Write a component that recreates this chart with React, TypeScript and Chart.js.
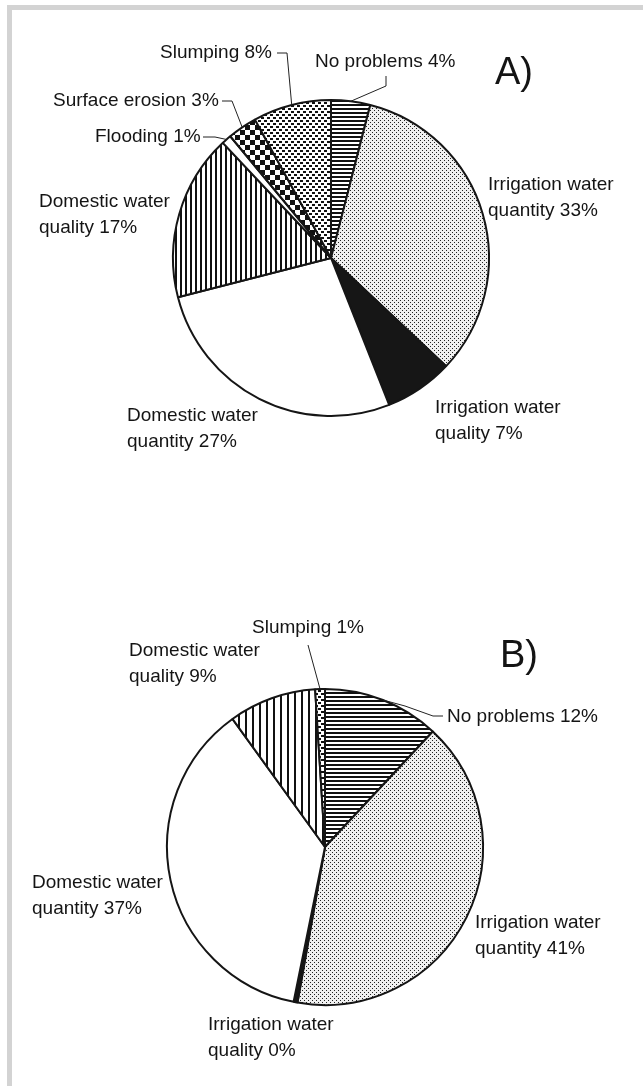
import React, { useEffect, useRef } from "react";
import { Chart, registerables } from "chart.js";

Chart.register(...registerables);

// ---------- DATA ----------
const categoriesA = [
  "No problems",
  "Irrigation water quantity",
  "Irrigation water quality",
  "Domestic water quantity",
  "Domestic water quality",
  "Flooding",
  "Surface erosion",
  "Slumping",
];
const valuesA = [4, 33, 7, 27, 17, 1, 3, 8];

const categoriesB = [
  "No problems",
  "Irrigation water quantity",
  "Irrigation water quality",
  "Domestic water quantity",
  "Domestic water quality",
  "Slumping",
];
// "Irrigation water quality" is labelled 0% but drawn as a hairline wedge
const valuesB = [12, 41, 0.4, 37, 9, 1];

const panelTitles = ["A)", "B)"];

// ---------- LAYOUT / STYLE ----------
const W = 643;
const H = 1086;
const FONT = "'Liberation Sans', Arial, Helvetica, sans-serif";
const TEXT_SIZE = 19;
const LINE_GAP = 25.5;
const TITLE_SIZE = 38;

type LabelLayout = {
  x: number;
  y: number;
  wrap: boolean;
  leader?: number[][]; // polyline from near the text towards the slice (arc point appended)
};

const layoutA = {
  cx: 331,
  cy: 258,
  radius: 158,
  title: { x: 495, y: 84 },
  labels: [
    { x: 315, y: 67, wrap: false, leader: [[386, 76], [386, 86]] },
    { x: 488, y: 190, wrap: true },
    { x: 435, y: 413, wrap: true },
    { x: 127, y: 421, wrap: true },
    { x: 39, y: 207, wrap: true },
    { x: 95, y: 142, wrap: false, leader: [[203, 137], [215, 137]] },
    { x: 53, y: 106, wrap: false, leader: [[222, 101], [232, 101]] },
    { x: 160, y: 58, wrap: false, leader: [[277, 53], [287, 53]] },
  ] as LabelLayout[],
};

const layoutB = {
  cx: 325,
  cy: 847,
  radius: 158,
  title: { x: 500, y: 667 },
  labels: [
    { x: 447, y: 722, wrap: false, leader: [[443, 716], [433, 716], [405, 706]] },
    { x: 475, y: 928, wrap: true },
    { x: 208, y: 1030, wrap: true },
    { x: 32, y: 888, wrap: true },
    { x: 129, y: 656, wrap: true },
    { x: 252, y: 633, wrap: false, leader: [[308, 645]] },
  ] as LabelLayout[],
};

// ---------- PATTERNS ----------
function tile(w: number, h: number, draw: (c: CanvasRenderingContext2D) => void): CanvasPattern | string {
  const cv = document.createElement("canvas");
  cv.width = w;
  cv.height = h;
  const c = cv.getContext("2d");
  if (!c) return "#888";
  draw(c);
  const p = c.createPattern(cv, "repeat");
  return p || "#888";
}

function patternFor(category: string, panel: number): CanvasPattern | string {
  switch (category) {
    case "No problems":
      return tile(4, 4, (c) => {
        c.fillStyle = "#fff";
        c.fillRect(0, 0, 4, 4);
        c.fillStyle = "#111";
        c.fillRect(0, 0, 4, 2);
      });
    case "Irrigation water quantity":
      return tile(4, 4, (c) => {
        c.fillStyle = "#f0f0f0";
        c.fillRect(0, 0, 4, 4);
        c.fillStyle = "#222";
        c.fillRect(0, 0, 1, 1);
        c.fillRect(2, 2, 1, 1);
      });
    case "Irrigation water quality":
      return "#161616";
    case "Domestic water quantity":
      return "#ffffff";
    case "Domestic water quality": {
      const p = panel === 0 ? 5 : 7;
      return tile(p, 4, (c) => {
        c.fillStyle = "#fff";
        c.fillRect(0, 0, p, 4);
        c.fillStyle = "#111";
        c.fillRect(0, 0, 2, 4);
      });
    }
    case "Flooding":
      return "#ffffff";
    case "Surface erosion":
      return tile(10, 10, (c) => {
        c.fillStyle = "#fff";
        c.fillRect(0, 0, 10, 10);
        c.fillStyle = "#111";
        c.fillRect(0, 0, 5, 5);
        c.fillRect(5, 5, 5, 5);
      });
    case "Slumping":
      return tile(6, 6, (c) => {
        c.fillStyle = "#fff";
        c.fillRect(0, 0, 6, 6);
        c.fillStyle = "#111";
        c.fillRect(0, 0, 3, 2);
        c.fillRect(3, 3, 3, 2);
      });
    default:
      return "#ccc";
  }
}

function labelLines(category: string, value: number, wrap: boolean): string[] {
  const pct = `${Math.round(value)}%`;
  if (!wrap) return [`${category} ${pct}`];
  const words = category.split(" ");
  return [words.slice(0, 2).join(" "), `${words.slice(2).join(" ")} ${pct}`];
}

function makeLabelPlugin(
  categories: string[],
  values: number[],
  layout: { labels: LabelLayout[]; title: { x: number; y: number } },
  title: string
) {
  return {
    id: "leaderLabels",
    afterDraw(chart: any) {
      const ctx: CanvasRenderingContext2D = chart.ctx;
      const meta = chart.getDatasetMeta(0);
      ctx.save();
      // leader lines, ending on the arc at the middle of each slice
      ctx.strokeStyle = "#222";
      ctx.lineWidth = 1;
      layout.labels.forEach((lab, i) => {
        if (!lab.leader) return;
        const arc = meta.data[i];
        const p = arc.getProps(["x", "y", "startAngle", "endAngle", "outerRadius"], true);
        const a = (p.startAngle + p.endAngle) / 2;
        const ax = p.x + Math.cos(a) * p.outerRadius;
        const ay = p.y + Math.sin(a) * p.outerRadius;
        ctx.beginPath();
        ctx.moveTo(lab.leader[0][0], lab.leader[0][1]);
        for (let k = 1; k < lab.leader.length; k++) ctx.lineTo(lab.leader[k][0], lab.leader[k][1]);
        ctx.lineTo(ax, ay);
        ctx.stroke();
      });
      // label texts
      ctx.fillStyle = "#141414";
      ctx.textBaseline = "alphabetic";
      ctx.textAlign = "left";
      ctx.font = `${TEXT_SIZE}px ${FONT}`;
      layout.labels.forEach((lab, i) => {
        const lines = labelLines(categories[i], values[i], lab.wrap);
        lines.forEach((ln, k) => {
          ctx.fillText(ln, lab.x, lab.y + k * LINE_GAP);
        });
      });
      // panel title
      ctx.font = `${TITLE_SIZE}px ${FONT}`;
      ctx.fillText(title, layout.title.x, layout.title.y);
      ctx.restore();
    },
  };
}

function buildChart(
  canvas: HTMLCanvasElement,
  categories: string[],
  values: number[],
  layout: typeof layoutA,
  panel: number
) {
  const padLeft = Math.max(0, 2 * layout.cx - W);
  const padRight = Math.max(0, W - 2 * layout.cx);
  const padTop = Math.max(0, 2 * layout.cy - H);
  const padBottom = Math.max(0, H - 2 * layout.cy);
  return new Chart(canvas, {
    type: "pie",
    data: {
      labels: categories,
      datasets: [
        {
          data: values,
          backgroundColor: categories.map((c) => patternFor(c, panel)) as any,
          borderColor: "#151515",
          borderWidth: 2,
          radius: layout.radius,
        } as any,
      ],
    },
    options: {
      responsive: false,
      animation: false,
      events: [],
      layout: { padding: { left: padLeft, right: padRight, top: padTop, bottom: padBottom } },
      plugins: {
        legend: { display: false },
        tooltip: { enabled: false },
      },
    },
    plugins: [makeLabelPlugin(categories, values, layout, panelTitles[panel])],
  });
}

export default function App() {
  const refA = useRef<HTMLCanvasElement>(null);
  const refB = useRef<HTMLCanvasElement>(null);

  useEffect(() => {
    if (!refA.current || !refB.current) return;
    const a = buildChart(refA.current, categoriesA, valuesA, layoutA, 0);
    const b = buildChart(refB.current, categoriesB, valuesB, layoutB, 1);
    return () => {
      a.destroy();
      b.destroy();
    };
  }, []);

  const canvasStyle: React.CSSProperties = {
    position: "absolute",
    left: 0,
    top: 0,
    width: W,
    height: H,
  };

  return (
    <div
      style={{
        position: "absolute",
        left: 0,
        top: 0,
        width: W,
        height: H,
        overflow: "hidden",
        background: "#ffffff",
      }}
    >
      <div style={{ position: "absolute", left: 7, top: 5, width: W - 7, height: 5, background: "#d3d3d3" }} />
      <div style={{ position: "absolute", left: 7, top: 5, width: 5, height: H - 5, background: "#d3d3d3" }} />
      <canvas ref={refA} width={W} height={H} style={canvasStyle} />
      <canvas ref={refB} width={W} height={H} style={canvasStyle} />
    </div>
  );
}
